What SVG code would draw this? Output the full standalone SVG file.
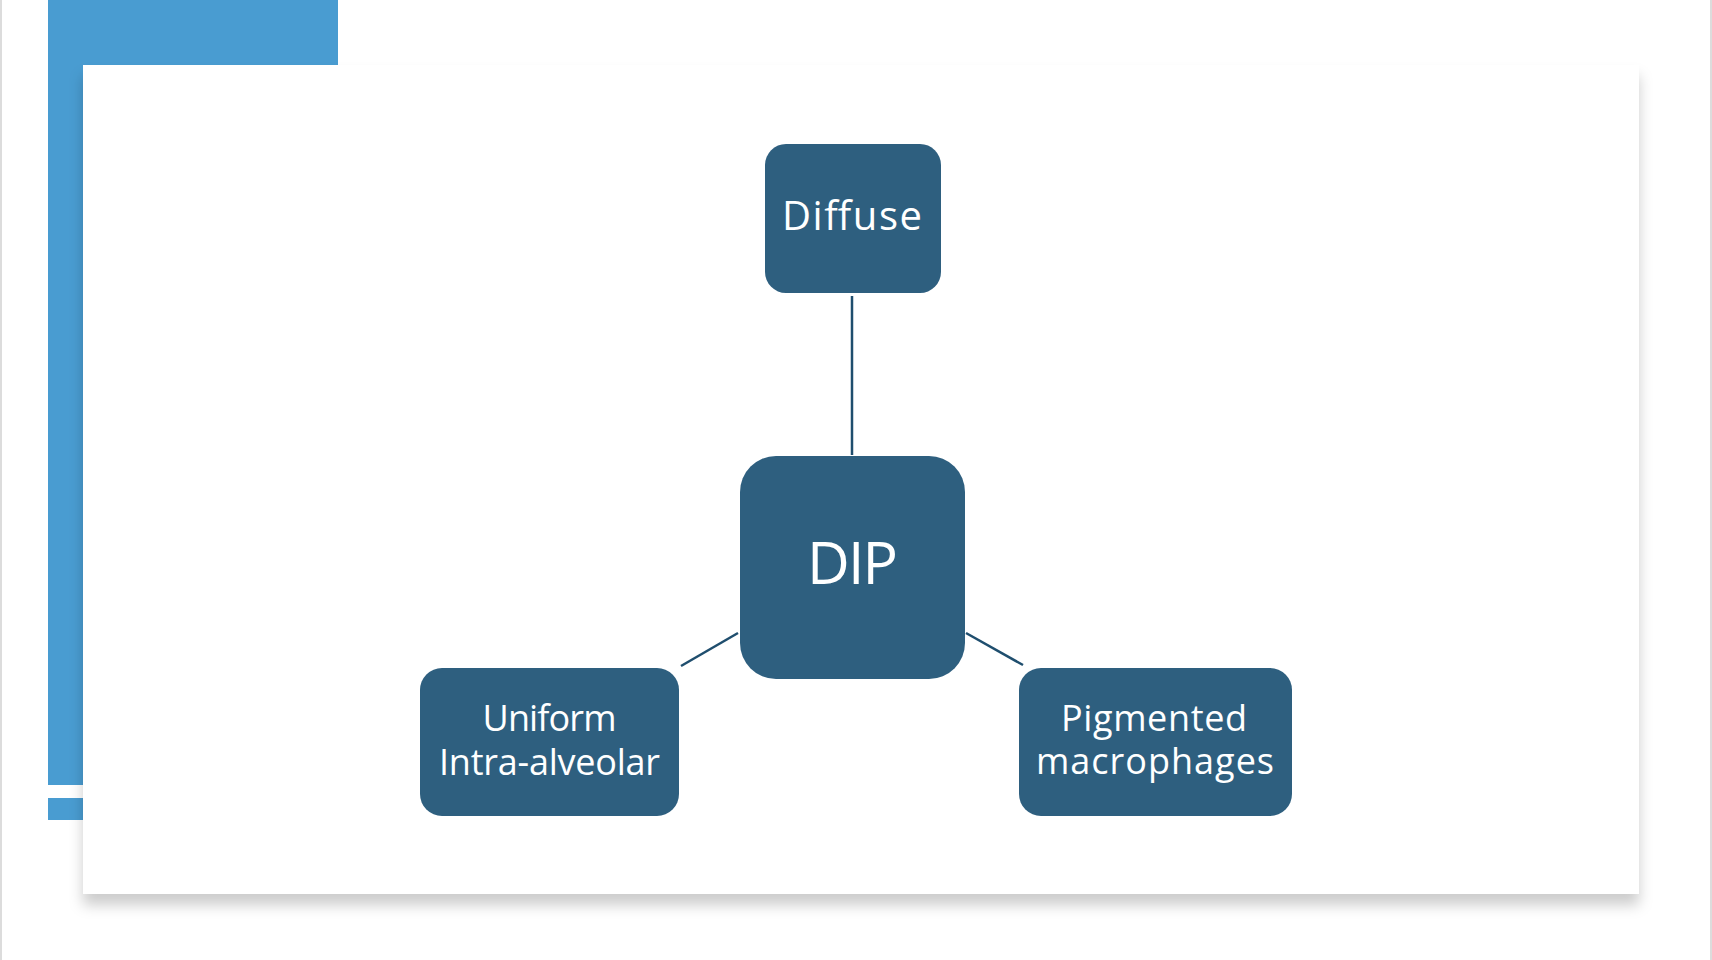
<svg xmlns="http://www.w3.org/2000/svg" width="1712" height="960" viewBox="0 0 1712 960">
  <style>
    .node { fill: #2e5f7f; }
    .label { fill: #ffffff; font-family: "Open Sans", "Liberation Sans", sans-serif; text-anchor: middle; }
    .conn { stroke: #1f4e6e; stroke-width: 2.5; fill: none; }
    .accent { fill: #499cd1; }
  </style>
  <defs>
    <filter id="cardShadow" x="-5%" y="-5%" width="110%" height="115%">
      <feDropShadow dx="0" dy="11" stdDeviation="7" flood-color="#000000" flood-opacity="0.2"/>
    </filter>
  </defs>
  <rect x="0" y="0" width="1712" height="960" fill="#ffffff"/>
  <rect x="0" y="0" width="2" height="960" fill="#dcdcdc"/>
  <rect x="1710" y="0" width="2" height="960" fill="#dcdcdc"/>

  <g id="accent-bars">
    <rect class="accent" x="48" y="0" width="290" height="65"/>
    <rect class="accent" x="48" y="0" width="35" height="785"/>
    <rect class="accent" x="48" y="798" width="35" height="22"/>
  </g>

  <rect id="card" x="83" y="65" width="1556" height="829" fill="#ffffff" filter="url(#cardShadow)"/>

  <g id="connectors">
    <line class="conn" x1="852" y1="296" x2="852" y2="455"/>
    <line class="conn" x1="738" y1="633" x2="681" y2="666"/>
    <line class="conn" x1="966" y1="633" x2="1023" y2="665"/>
  </g>

  <g id="node-diffuse">
    <rect class="node" x="765" y="144" width="176" height="149" rx="21"/>
    <text class="label" x="852" y="230" font-size="40" textLength="140">Diffuse</text>
  </g>

  <g id="node-dip">
    <rect class="node" x="740" y="456" width="225" height="223" rx="36"/>
    <text class="label" x="852.5" y="584" font-size="59" textLength="91">DIP</text>
  </g>

  <g id="node-uniform">
    <rect class="node" x="420" y="668" width="259" height="148" rx="22"/>
    <text class="label" x="549.5" y="731" font-size="36" textLength="134">Uniform</text>
    <text class="label" x="549.5" y="775" font-size="36" textLength="221">Intra-alveolar</text>
  </g>

  <g id="node-pigmented">
    <rect class="node" x="1019" y="668" width="273" height="148" rx="22"/>
    <text class="label" x="1154" y="731" font-size="36" textLength="186">Pigmented</text>
    <text class="label" x="1155" y="774" font-size="36" textLength="238">macrophages</text>
  </g>
</svg>
